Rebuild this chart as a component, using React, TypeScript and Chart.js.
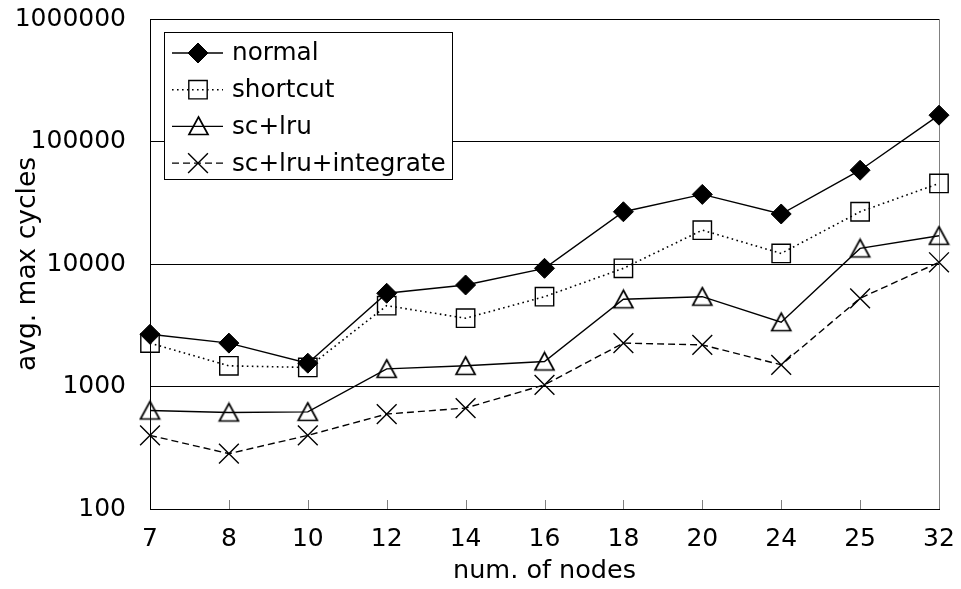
import React, { useEffect, useRef } from 'react';
import { Chart, registerables } from 'chart.js';

Chart.register(...registerables);

// ---- data ----
const categories = ['7', '8', '10', '12', '14', '16', '18', '20', '24', '25', '32'];
const seriesNames = ['normal', 'shortcut', 'sc+lru', 'sc+lru+integrate'];
const normalValues = [2670, 2260, 1550, 5770, 6740, 9220, 26700, 37000, 25600, 58300, 164000];
const shortcutValues = [2260, 1475, 1430, 4570, 3610, 5410, 9220, 18900, 12200, 26700, 45500];
const scLruValues = [637, 614, 621, 1393, 1475, 1600, 5150, 5410, 3350, 13400, 17000];
const scLruIntegrateValues = [399, 283, 399, 596, 667, 1032, 2260, 2188, 1503, 5250, 10330];
const yTickValues = [100, 1000, 10000, 100000, 1000000];
const xTitle = 'num. of nodes';
const yTitle = 'avg. max cycles';

const FONT = "'DejaVu Sans', sans-serif";

// triangle marker centred on its bounding box (as in the original)
function makeTriangle(): HTMLCanvasElement {
  const c = document.createElement('canvas');
  c.width = 23;
  c.height = 22;
  const g = c.getContext('2d')!;
  g.strokeStyle = '#000';
  g.lineWidth = 1.7;
  g.lineJoin = 'miter';
  g.beginPath();
  g.moveTo(11.5, 2);
  g.lineTo(21, 19.5);
  g.lineTo(2, 19.5);
  g.closePath();
  g.stroke();
  return c;
}

function drawMarker(
  ctx: CanvasRenderingContext2D,
  style: any,
  x: number,
  y: number,
  r: number,
  fill: string,
  stroke: string,
  lw: number
) {
  ctx.save();
  ctx.setLineDash([]);
  ctx.lineWidth = lw;
  ctx.strokeStyle = stroke;
  ctx.fillStyle = fill;
  ctx.beginPath();
  if (typeof style !== 'string') {
    ctx.drawImage(style, Math.round(x - style.width / 2), Math.round(y - style.height / 2));
  } else if (style === 'rectRot') {
    ctx.moveTo(x, y - r);
    ctx.lineTo(x + r, y);
    ctx.lineTo(x, y + r);
    ctx.lineTo(x - r, y);
    ctx.closePath();
    ctx.fill();
    ctx.stroke();
  } else if (style === 'rect') {
    const h = r * Math.SQRT1_2;
    ctx.rect(x - h, y - h, 2 * h, 2 * h);
    ctx.fill();
    ctx.stroke();
  } else if (style === 'crossRot') {
    const h = r * Math.SQRT1_2;
    ctx.moveTo(x - h, y - h);
    ctx.lineTo(x + h, y + h);
    ctx.moveTo(x - h, y + h);
    ctx.lineTo(x + h, y - h);
    ctx.stroke();
  }
  ctx.restore();
}

export default function App() {
  const ref = useRef<HTMLCanvasElement>(null);

  useEffect(() => {
    const canvas = ref.current;
    if (!canvas) return;
    const tri = makeTriangle();

    const frame = {
      id: 'frame',
      beforeDatasetsDraw(chart: any) {
        const { ctx, chartArea } = chart;
        const xs = chart.scales.x;
        ctx.save();
        ctx.strokeStyle = '#808080';
        ctx.lineWidth = 1;
        ctx.setLineDash([]);
        for (let i = 1; i < xs.ticks.length; i++) {
          const px = Math.round(xs.getPixelForTick(i)) + 0.5;
          ctx.beginPath();
          ctx.moveTo(px, chartArea.bottom);
          ctx.lineTo(px, chartArea.bottom - 9);
          ctx.stroke();
        }
        // right border
        const rx = Math.round(chartArea.right) + 0.5;
        ctx.beginPath();
        ctx.moveTo(rx, chartArea.top);
        ctx.lineTo(rx, chartArea.bottom);
        ctx.stroke();
        ctx.restore();
      },
    };

    const legendBox = {
      id: 'legendBox',
      afterDraw(chart: any) {
        const ctx: CanvasRenderingContext2D = chart.ctx;
        const left = 164.5, top = 32.5, w = 288, h = 147;
        ctx.save();
        ctx.fillStyle = '#ffffff';
        ctx.fillRect(left, top, w, h);
        ctx.strokeStyle = '#000';
        ctx.lineWidth = 1;
        ctx.setLineDash([]);
        ctx.strokeRect(left, top, w, h);
        chart.data.datasets.forEach((ds: any, i: number) => {
          const y = 53 + i * 36.7;
          ctx.save();
          ctx.strokeStyle = ds.borderColor;
          ctx.lineWidth = ds.borderWidth;
          ctx.setLineDash(ds.borderDash || []);
          ctx.beginPath();
          ctx.moveTo(172, y);
          ctx.lineTo(223, y);
          ctx.stroke();
          ctx.restore();
          drawMarker(ctx, ds.pointStyle, 198, y, ds.pointRadius, ds.pointBackgroundColor, ds.pointBorderColor, ds.pointBorderWidth);
          ctx.fillStyle = '#000';
          ctx.font = `24.7px ${FONT}`;
          ctx.textAlign = 'left';
          ctx.textBaseline = 'middle';
          ctx.fillText(ds.label, 232, y + 1);
        });
        ctx.restore();
      },
    };

    const chart = new Chart(canvas, {
      type: 'line',
      data: {
        labels: categories,
        datasets: [
          {
            label: seriesNames[0],
            data: normalValues,
            borderColor: '#000',
            borderWidth: 1.4,
            pointStyle: 'rectRot',
            pointRadius: 10,
            pointBackgroundColor: '#000',
            pointBorderColor: '#000',
            pointBorderWidth: 1,
            tension: 0,
            clip: false,
          },
          {
            label: seriesNames[1],
            data: shortcutValues,
            borderColor: '#000',
            borderWidth: 1.6,
            borderDash: [1.6, 3.4],
            pointStyle: 'rect',
            pointRadius: 13,
            pointBackgroundColor: 'rgba(0,0,0,0)',
            pointBorderColor: '#000',
            pointBorderWidth: 1.4,
            tension: 0,
            clip: false,
          },
          {
            label: seriesNames[2],
            data: scLruValues,
            borderColor: '#000',
            borderWidth: 1.4,
            pointStyle: tri,
            pointRadius: 11,
            pointBackgroundColor: 'rgba(0,0,0,0)',
            pointBorderColor: '#000',
            pointBorderWidth: 1.4,
            tension: 0,
            clip: false,
          },
          {
            label: seriesNames[3],
            data: scLruIntegrateValues,
            borderColor: '#000',
            borderWidth: 1.4,
            borderDash: [7, 4],
            pointStyle: 'crossRot',
            pointRadius: 14,
            pointBackgroundColor: 'rgba(0,0,0,0)',
            pointBorderColor: '#000',
            pointBorderWidth: 1.4,
            tension: 0,
            clip: false,
          },
        ] as any,
      },
      options: {
        responsive: false,
        animation: false,
        devicePixelRatio: 1,
        layout: { padding: { top: 19, right: 22, left: 0, bottom: 0 } },
        plugins: {
          legend: { display: false },
          tooltip: { enabled: false },
        },
        scales: {
          x: {
            type: 'category',
            offset: false,
            afterFit: (s: any) => {
              s.height = 80;
              s.paddingLeft = 0;
              s.paddingRight = 0;
            },
            ticks: {
              font: { family: FONT, size: 25 },
              color: '#000',
              padding: 15,
              maxRotation: 0,
              autoSkip: false,
            },
            grid: { display: false, drawTicks: false },
            border: { display: true, color: '#000', width: 1 },
            title: {
              display: true,
              text: xTitle,
              font: { family: FONT, size: 25.5 },
              color: '#000',
              padding: { top: 0, bottom: 2 },
            },
          },
          y: {
            type: 'logarithmic',
            min: 100,
            max: 1000000,
            afterBuildTicks: (s: any) => {
              s.ticks = yTickValues.map((v) => ({ value: v }));
            },
            afterFit: (s: any) => {
              s.width = 150;
              s.paddingTop = 0;
              s.paddingBottom = 0;
            },
            ticks: {
              callback: (v: any) => String(v),
              font: { family: FONT, size: 25 },
              color: '#000',
              padding: 24,
              autoSkip: false,
            },
            grid: {
              color: (c: any) => (c.tick && c.tick.value === 100 ? 'rgba(0,0,0,0)' : '#000'),
              drawTicks: false,
              lineWidth: 1,
            },
            border: { display: true, color: '#000', width: 1 },
            title: {
              display: true,
              text: yTitle,
              font: { family: FONT, size: 26.5 },
              color: '#000',
              padding: { top: 12, bottom: 0 },
            },
          },
        },
      } as any,
      plugins: [frame, legendBox],
    });

    return () => chart.destroy();
  }, []);

  return (
    <div style={{ position: 'fixed', left: 0, top: 0, width: 961, height: 589, background: '#fff' }}>
      <canvas ref={ref} width={961} height={589} style={{ width: 961, height: 589, display: 'block' }} />
    </div>
  );
}
